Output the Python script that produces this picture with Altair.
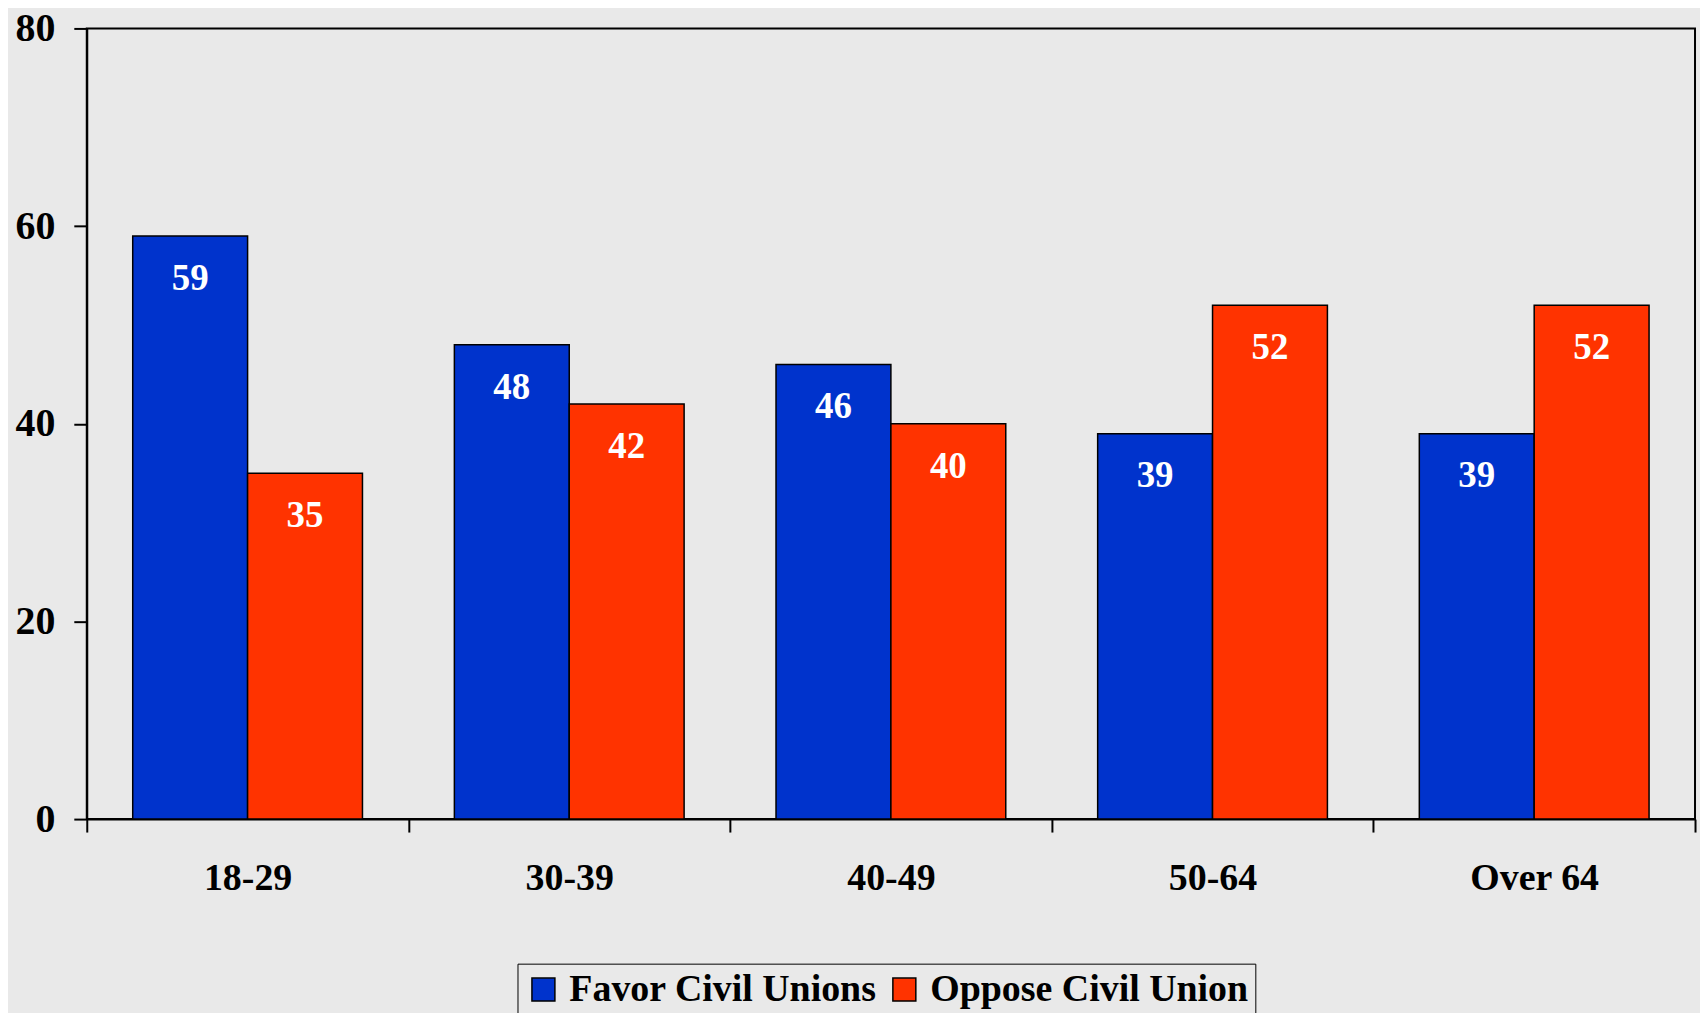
import altair as alt
import pandas as pd

groups = ["18-29", "30-39", "40-49", "50-64", "Over 64"]
series = ["Favor Civil Unions", "Oppose Civil Union"]
favor = [59, 48, 46, 39, 39]
oppose = [35, 42, 40, 52, 52]
colors = ["#0033CC", "#FF3300"]
y_ticks = [0, 20, 40, 60, 80]

rows = []
for g, f, o in zip(groups, favor, oppose):
    rows.append({"group": g, "series": series[0], "value": f})
    rows.append({"group": g, "series": series[1], "value": o})
df = pd.DataFrame(rows)

FONT = "Liberation Serif"
BG = "#E9E9E9"

x_enc = alt.X(
    "group:N", sort=groups, title=None,
    scale=alt.Scale(paddingInner=0, paddingOuter=0),
    axis=alt.Axis(labelAngle=0, tickBand="extent", tickSize=13, tickColor="black", tickWidth=2,
                  domainColor="black", domainWidth=2, labelFont=FONT, labelFontSize=38,
                  labelFontWeight="bold", labelColor="black", labelPadding=28, grid=False),
)
y_enc = alt.Y(
    "value:Q", title=None,
    scale=alt.Scale(domain=[0, 80], nice=False),
    axis=alt.Axis(values=y_ticks, tickSize=13, tickColor="black", tickWidth=2,
                  domainColor="black", domainWidth=2, labelFont=FONT, labelFontSize=40,
                  labelFontWeight="bold", labelColor="black", labelPadding=19, grid=False),
)
xoff = alt.XOffset("series:N", sort=series, scale=alt.Scale(paddingOuter=0.4, paddingInner=0))

bars = alt.Chart(df).mark_bar(stroke="black", strokeWidth=1.5, opacity=1).encode(
    x=x_enc, y=y_enc, xOffset=xoff,
    color=alt.Color(
        "series:N", sort=series,
        scale=alt.Scale(domain=series, range=colors),
        legend=alt.Legend(
            orient="none", legendX=432, legendY=938, direction="horizontal", title=None,
            strokeColor="black", fillColor=BG, padding=7,
            labelFont=FONT, labelFontSize=38, labelFontWeight="bold", labelColor="black",
            labelLimit=1000, symbolType="square", symbolSize=530, symbolStrokeColor="black",
            symbolStrokeWidth=1.5, symbolOpacity=1, columnPadding=8, labelOffset=7,
        ),
    ),
)

labels = alt.Chart(df).mark_text(
    baseline="middle", align="center", dy=43, color="white",
    font=FONT, fontSize=37, fontWeight="bold",
).encode(x=x_enc, y=y_enc, xOffset=xoff, text=alt.Text("value:Q"))

chart = alt.layer(bars, labels).properties(
    width=1613, height=793, background=BG,
    padding={"left": 79, "top": 19, "right": 5, "bottom": 193},
    autosize=alt.AutoSizeParams(type="none"),
).configure_view(stroke="black", strokeWidth=2, fill=BG)

chart.save("out.html", embed_options={"renderer": "svg", "actions": False})
